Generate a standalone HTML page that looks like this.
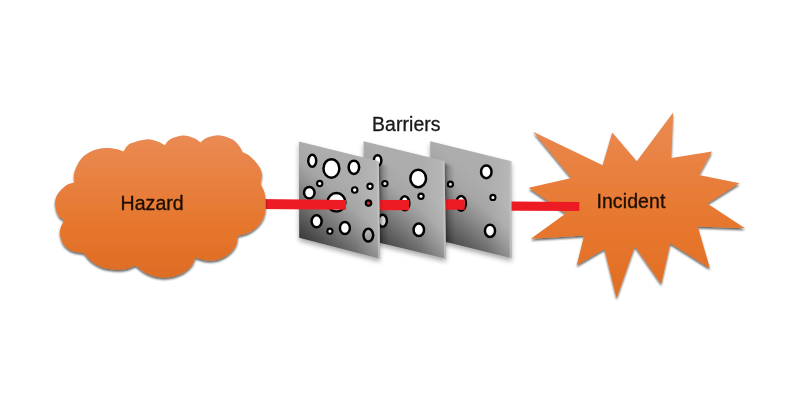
<!DOCTYPE html>
<html><head><meta charset="utf-8">
<style>
html,body{margin:0;padding:0;background:#fff;}
body{width:800px;height:417px;overflow:hidden;position:relative;font-family:"Liberation Sans",sans-serif;}
svg{position:absolute;left:0;top:0;display:block;}
text{font-family:"Liberation Sans",sans-serif;fill:#1c0c02;stroke:#1c0c02;stroke-width:0.32px;}
</style></head><body>
<svg width="800" height="417" viewBox="0 0 800 417">
<defs>
  <linearGradient id="gc" gradientUnits="userSpaceOnUse" x1="0" y1="135" x2="0" y2="278">
    <stop offset="0" stop-color="#ea8a54"/><stop offset="0.65" stop-color="#e6762c"/><stop offset="1" stop-color="#dd6c24"/>
  </linearGradient>
  <linearGradient id="gs" gradientUnits="userSpaceOnUse" x1="0" y1="112" x2="0" y2="298">
    <stop offset="0" stop-color="#ea8a52"/><stop offset="0.6" stop-color="#e7772e"/><stop offset="1" stop-color="#e06e24"/>
  </linearGradient>
  <linearGradient id="gp" x1="0.6915" y1="0.374" x2="0.295" y2="1.034">
    <stop offset="0" stop-color="#adadad"/><stop offset="0.23" stop-color="#a6a6a6"/><stop offset="0.385" stop-color="#939393"/><stop offset="1" stop-color="#323232"/>
  </linearGradient>
  <linearGradient id="gm" x1="0" y1="0" x2="0" y2="1"><stop offset="0" stop-color="#bebebe"/><stop offset="1" stop-color="#969696"/></linearGradient>
  <linearGradient id="gv" x1="0" y1="0" x2="0" y2="1">
    <stop offset="0.7" stop-color="#000" stop-opacity="0"/><stop offset="1" stop-color="#000" stop-opacity="0.0"/>
  </linearGradient>
  <linearGradient id="gh" x1="0" y1="0" x2="1" y2="0">
    <stop offset="0.7" stop-color="#fff" stop-opacity="0"/><stop offset="1" stop-color="#fff" stop-opacity="0.13"/>
  </linearGradient>
  <linearGradient id="gsh" x1="0" y1="0" x2="1" y2="0">
    <stop offset="0" stop-color="#000" stop-opacity="0.5"/><stop offset="0.45" stop-color="#000" stop-opacity="0.18"/><stop offset="1" stop-color="#000" stop-opacity="0"/>
  </linearGradient>
  <clipPath id="cp2"><polygon points="363.6,141.3 444.5,161 446,258.7 363,238.7"/></clipPath>
  <clipPath id="cp3"><polygon points="430.2,141.3 511.3,161.2 511.7,258.2 430,238"/></clipPath>
  <filter id="bl" x="-50%" y="-10%" width="200%" height="120%"><feGaussianBlur stdDeviation="1.3"/></filter>
  <filter id="tb" x="-5%" y="-20%" width="110%" height="140%"><feGaussianBlur stdDeviation="0.35"/></filter>
  <filter id="sh" x="-10%" y="-10%" width="125%" height="125%">
    <feGaussianBlur in="SourceAlpha" stdDeviation="1.3"/>
    <feOffset dx="0" dy="1.9"/>
    <feComponentTransfer><feFuncA type="linear" slope="0.62"/></feComponentTransfer>
    <feMerge><feMergeNode/><feMergeNode in="SourceGraphic"/></feMerge>
  </filter>
  <filter id="shp" x="-10%" y="-10%" width="125%" height="125%">
    <feGaussianBlur in="SourceAlpha" stdDeviation="2.5"/>
    <feOffset dx="0" dy="3"/>
    <feComponentTransfer><feFuncA type="linear" slope="0.35"/></feComponentTransfer>
    <feMerge><feMergeNode/><feMergeNode in="SourceGraphic"/></feMerge>
  </filter>
</defs>

<!-- panel 3 -->
<g filter="url(#shp)"><polygon points="430.2,141.3 511.3,161.2 511.7,258.2 430,238" fill="url(#gp)"/></g>
<polygon points="430.2,141.3 511.3,161.2 511.7,258.2 430,238" fill="url(#gv)"/><polygon points="430.2,141.3 511.3,161.2 511.7,258.2 430,238" fill="url(#gh)"/>
<polygon points="509.3,160.7 511.3,161.2 511.7,258.2 509.7,257.7" fill="#c4c4c4" opacity="0.75"/>
<ellipse cx="486.3" cy="171.8" rx="5.25" ry="6.35" fill="#fff" stroke="#000" stroke-width="2.5"/>
<ellipse cx="450.4" cy="184.2" rx="2.55" ry="2.55" fill="#fff" stroke="#000" stroke-width="2.1"/>
<ellipse cx="492.9" cy="197.4" rx="2.55" ry="2.55" fill="#fff" stroke="#000" stroke-width="2.1"/>
<ellipse cx="461.1" cy="203.3" rx="4.85" ry="7.35" fill="#fff" stroke="#000" stroke-width="2.5"/>
<ellipse cx="490" cy="230.8" rx="5.05" ry="6.15" fill="#fff" stroke="#000" stroke-width="2.5"/>
<g clip-path="url(#cp3)"><polygon filter="url(#bl)" points="442.5,163 453.5,166.2 454.8,262 443.8,262" fill="url(#gsh)"/></g>
<polygon points="444,199.2 464.8,199.4 464.8,209.8 444,209.7" fill="#ed1c24"/>
<!-- panel 2 -->
<g filter="url(#shp)"><polygon points="363.6,141.3 444.5,161 446,258.7 363,238.7" fill="url(#gp)"/></g>
<polygon points="363.6,141.3 444.5,161 446,258.7 363,238.7" fill="url(#gv)"/><polygon points="363.6,141.3 444.5,161 446,258.7 363,238.7" fill="url(#gh)"/>
<polygon points="442.5,160.5 444.5,161 446,258.7 444,258.2" fill="#c4c4c4" opacity="0.75"/>
<ellipse cx="377.6" cy="160.5" rx="3.75" ry="5.35" fill="#fff" stroke="#000" stroke-width="2.5"/>
<ellipse cx="418.2" cy="178.4" rx="7.85" ry="8.75" fill="#fff" stroke="#000" stroke-width="2.5"/>
<ellipse cx="384.9" cy="183.6" rx="2.65" ry="2.65" fill="#fff" stroke="#000" stroke-width="2.1"/>
<ellipse cx="421" cy="196.25" rx="2.65" ry="2.65" fill="#fff" stroke="#000" stroke-width="2.1"/>
<ellipse cx="404.8" cy="203.25" rx="4.55" ry="7.00" fill="#fff" stroke="#000" stroke-width="2.5"/>
<ellipse cx="382.6" cy="220.7" rx="4.25" ry="5.95" fill="#fff" stroke="#000" stroke-width="2.5"/>
<ellipse cx="418.8" cy="229.8" rx="5.25" ry="6.25" fill="#fff" stroke="#000" stroke-width="2.5"/>
<g clip-path="url(#cp2)"><polygon filter="url(#bl)" points="377,163 388.2,166.2 389.3,262 378,262" fill="url(#gsh)"/></g>
<polygon points="378,200 409,200 409,210.2 378,210.2" fill="#ed1c24"/>
<!-- panel 1 -->
<g filter="url(#shp)"><polygon points="298.9,141.4 378.8,161.2 380,258.8 299.2,237.8" fill="url(#gp)"/></g>
<polygon points="298.9,141.4 378.8,161.2 380,258.8 299.2,237.8" fill="url(#gv)"/><polygon points="298.9,141.4 378.8,161.2 380,258.8 299.2,237.8" fill="url(#gh)"/>
<polygon points="376.8,160.7 378.8,161.2 380,258.8 378,258.3" fill="#c4c4c4" opacity="0.75"/>
<ellipse cx="312.25" cy="160.8" rx="4.00" ry="5.95" fill="#fff" stroke="#000" stroke-width="2.5"/>
<ellipse cx="331.4" cy="168.4" rx="7.95" ry="9.25" fill="#fff" stroke="#000" stroke-width="2.5"/>
<ellipse cx="353.9" cy="167.3" rx="5.25" ry="6.65" fill="#fff" stroke="#000" stroke-width="2.5"/>
<ellipse cx="319.7" cy="183.5" rx="2.65" ry="2.65" fill="#fff" stroke="#000" stroke-width="2.1"/>
<ellipse cx="354.7" cy="190" rx="2.75" ry="2.75" fill="#fff" stroke="#000" stroke-width="2.1"/>
<ellipse cx="370" cy="186.3" rx="2.65" ry="2.65" fill="#fff" stroke="#000" stroke-width="2.1"/>
<ellipse cx="309.3" cy="192.7" rx="5.25" ry="5.75" fill="#fff" stroke="#000" stroke-width="2.5"/>
<ellipse cx="336.4" cy="202.3" rx="9.05" ry="9.25" fill="#fff" stroke="#000" stroke-width="2.5"/>
<ellipse cx="368.5" cy="203.1" rx="2.75" ry="2.75" fill="#e0202a" stroke="#000" stroke-width="2.1"/>
<ellipse cx="316.6" cy="221.3" rx="5.05" ry="5.95" fill="#fff" stroke="#000" stroke-width="2.5"/>
<ellipse cx="329.9" cy="231.2" rx="2.55" ry="2.55" fill="#fff" stroke="#000" stroke-width="2.1"/>
<ellipse cx="344.9" cy="228" rx="5.00" ry="6.05" fill="#fff" stroke="#000" stroke-width="2.5"/>
<ellipse cx="368.3" cy="235.2" rx="4.85" ry="6.35" fill="url(#gm)" stroke="#000" stroke-width="2.5"/>
<polygon points="258,198.9 346,200 346,209.8 258,209" fill="#ed1c24"/>

<!-- cloud -->
<path id="cloud" filter="url(#sh)" fill="url(#gc)" d="M 74.50 182.30 C 74.47 179.03 73.28 176.43 74.40 172.50 C 75.53 168.57 78.32 162.33 81.25 158.75 C 84.18 155.17 88.04 152.78 92.00 151.00 C 95.96 149.22 101.00 148.43 105.00 148.10 C 109.00 147.77 112.93 148.45 116.00 149.00 C 119.07 149.55 120.93 150.60 123.40 151.40 C 125.60 148.85 126.19 145.75 130.00 143.75 C 133.81 141.75 141.67 139.76 146.25 139.40 C 150.83 139.04 154.41 140.63 157.50 141.60 C 160.59 142.57 162.37 144.00 164.80 145.20 C 166.53 143.27 167.05 141.00 170.00 139.40 C 172.95 137.80 178.54 135.82 182.50 135.60 C 186.46 135.38 190.77 136.97 193.75 138.10 C 196.73 139.23 198.18 140.97 200.40 142.40 C 202.77 140.80 204.23 138.77 207.50 137.60 C 210.77 136.43 215.83 135.10 220.00 135.40 C 224.17 135.70 229.27 137.59 232.50 139.40 C 235.73 141.21 237.73 144.15 239.40 146.25 C 241.07 148.35 241.47 150.08 242.50 152.00 C 245.00 153.42 247.40 154.08 250.00 156.25 C 252.60 158.42 256.12 162.12 258.10 165.00 C 260.08 167.88 261.48 170.37 261.90 173.50 C 262.32 176.63 261.03 180.37 260.60 183.80 C 261.87 186.70 263.55 189.38 264.40 192.50 C 265.25 195.62 265.60 198.96 265.70 202.50 C 265.80 206.04 265.95 210.21 265.00 213.75 C 264.05 217.29 262.50 220.72 260.00 223.75 C 257.50 226.78 253.65 229.93 250.00 231.90 C 246.35 233.88 242.07 234.37 238.10 235.60 C 237.57 238.57 237.85 241.58 236.50 244.50 C 235.15 247.42 232.75 250.68 230.00 253.10 C 227.25 255.52 223.75 257.75 220.00 259.00 C 216.25 260.25 211.57 260.85 207.50 260.60 C 203.43 260.35 199.57 258.53 195.60 257.50 C 194.15 260.42 193.64 263.54 191.25 266.25 C 188.86 268.96 185.21 271.88 181.25 273.75 C 177.29 275.62 171.88 277.04 167.50 277.50 C 163.12 277.96 158.75 277.33 155.00 276.50 C 151.25 275.67 148.23 274.32 145.00 272.50 C 141.77 270.68 138.73 267.90 135.60 265.60 C 132.90 266.65 130.72 268.06 127.50 268.75 C 124.28 269.44 120.42 269.96 116.25 269.75 C 112.08 269.54 106.67 268.92 102.50 267.50 C 98.33 266.08 94.40 263.67 91.25 261.25 C 88.10 258.83 86.15 255.75 83.60 253.00 C 79.83 252.30 75.62 252.33 72.30 250.90 C 68.98 249.47 65.75 247.10 63.70 244.40 C 61.65 241.70 60.53 237.40 60.00 234.70 C 59.47 232.00 59.82 230.60 60.50 228.20 C 61.18 225.80 62.90 222.93 64.10 220.30 C 62.17 218.63 59.80 217.93 58.30 215.30 C 56.80 212.67 55.27 207.92 55.10 204.50 C 54.93 201.08 55.45 197.97 57.25 194.80 C 59.05 191.63 63.03 187.58 65.90 185.50 C 68.78 183.42 71.63 183.37 74.50 182.30 Z"/>
<text filter="url(#tb)" x="120.600" y="210.150" font-size="19.500" letter-spacing="0.050">Hazard</text>
<text filter="url(#tb)" x="372.050" y="130.700" font-size="19.400" letter-spacing="0.080" style="fill:#1a1a1a;stroke:#1a1a1a">Barriers</text>

<!-- star -->
<polygon filter="url(#sh)" fill="url(#gs)" points="528.700,187.700 571.500,178 533.200,131.700 602.700,165.200 612.300,132.400 636.800,161.300 673.200,112.400 671.300,158 712,151.400 699,175 739.500,183.200 707.300,203.500 745,228.200 697.700,226.600 709.900,268.300 670.300,243.200 661.200,283.900 634.800,246.200 616.600,298.300 604.400,249.100 576.800,265.200 584.200,235.500 530.800,238.800 565.800,213.400"/>
<polygon points="511.500,201.400 579.300,202 579.300,211 511.500,210.800" fill="#ed1c24"/>
<text filter="url(#tb)" x="596.400" y="208.050" font-size="19.500" letter-spacing="0.100">Incident</text>

</svg>
</body></html>
